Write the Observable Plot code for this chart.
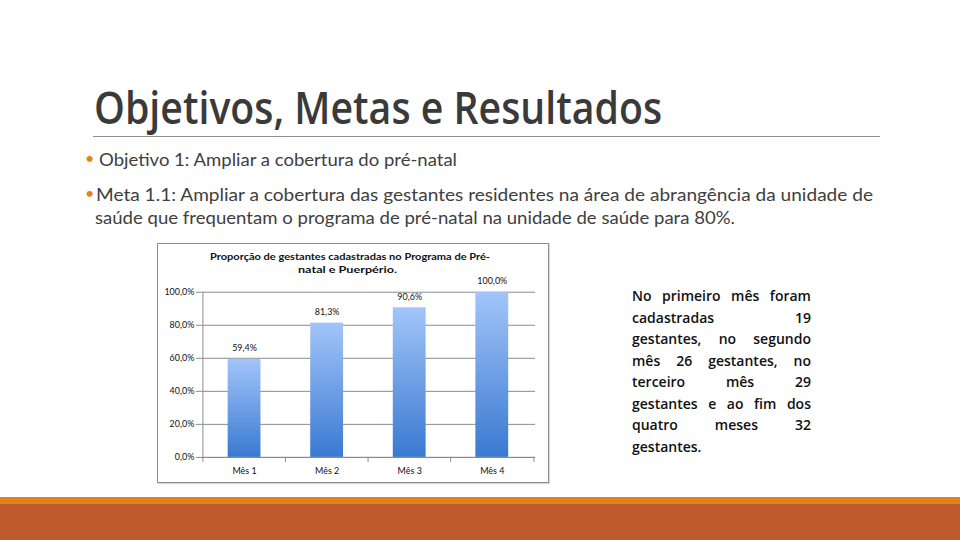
<!DOCTYPE html>
<html lang="pt">
<head>
<meta charset="utf-8">
<script src="https://cdn.jsdelivr.net/npm/d3@7"></script>
<script src="https://cdn.jsdelivr.net/npm/@observablehq/plot@0.6"></script>
<style>
  html, body { margin: 0; padding: 0; background: #fff; }
  #slide { position: relative; width: 960px; height: 540px; overflow: hidden; background: #fff; font-family: Lato, "Open Sans", sans-serif; }
  .abs { position: absolute; white-space: nowrap; transform-origin: 0 0; }
  .fit { display: inline-block; }
  #chartbox { position: absolute; left: 157px; top: 243px; width: 392px; height: 240px; box-sizing: border-box; border: 1px solid #8c8c8c; box-shadow: 1px 1px 1px rgba(0,0,0,0.15); }
  #chartbox svg { position: absolute; left: -1px; top: -1px; overflow: visible; }
  .ctitle { position: absolute; font-family: Lato, sans-serif; font-weight: 700; font-size: 10px; color: #111; white-space: nowrap; transform-origin: 0 0; }
  .pline { position: absolute; left: 632px; font-family: "Open Sans", Lato, sans-serif; font-weight: 600; font-size: 14px; color: #111; white-space: nowrap; line-height: 17px; }
</style>
</head>
<body>
<div id="slide">
  <div class="abs fit" id="title" style="left:94px; top:79px; font-family:'Open Sans', Lato, sans-serif; font-weight:600; font-size:45px; line-height:55px; color:#3a3a3a;">Objetivos, Metas e Resultados</div>
  <div class="abs" style="left:93px; top:136px; width:787px; height:1px; background:#8f8f8f;"></div>

  <div class="abs" style="left:85px; top:148px; font-size:16px; line-height:20px; color:#E48312;">•</div>
  <div class="abs fit" id="b1" style="left:99px; top:150px; font-size:16.5px; line-height:20px; color:#404040;">Objetivo 1: Ampliar a cobertura do pré-natal</div>

  <div class="abs" style="left:85px; top:183px; font-size:16px; line-height:20px; color:#E48312;">•</div>
  <div class="abs fit" id="b2" style="left:96px; top:185px; font-size:16.5px; line-height:20px; color:#404040;">Meta 1.1: Ampliar a cobertura das gestantes residentes na área de abrangência da unidade de</div>
  <div class="abs fit" id="b3" style="left:95px; top:208px; font-size:16.5px; line-height:20px; color:#404040;">saúde que frequentam o programa de pré-natal na unidade de saúde para 80%.</div>

  <div id="chartbox"></div>
  <div class="ctitle fit" id="ct1" style="left:210px; top:250px;">Proporção de gestantes cadastradas no Programa de Pré-</div>
  <div class="ctitle fit" id="ct2" style="left:298px; top:263px;">natal e Puerpério.</div>

  <div id="para"></div>

  <div class="abs" style="left:0; top:497px; width:960px; height:7px; background:#E3841B;"></div>
  <div class="abs" style="left:0; top:504px; width:960px; height:36px; background:#BE5A2C;"></div>
</div>
<script>
// ---- data ----
const months = ["Mês 1", "Mês 2", "Mês 3", "Mês 4"];
const values = [59.4, 81.3, 90.6, 100.0];
const yTicks = [0, 20, 40, 60, 80, 100];
const paragraphLines = [
  "No primeiro mês foram",
  "cadastradas 19",
  "gestantes, no segundo",
  "mês 26 gestantes, no",
  "terceiro mês 29",
  "gestantes e ao fim dos",
  "quatro meses 32",
  "gestantes."
];

const fmt = d => d.toFixed(1).replace(".", ",") + "%";
const data = months.map((m, i) => ({month: m, value: values[i]}));

const W = 392, H = 240, mL = 45, mR = 12, mT = 49, mB = 25;
const step = (W - mL - mR) / months.length;

const chart = Plot.plot({
  width: W, height: H,
  marginLeft: mL, marginRight: mR, marginTop: mT, marginBottom: mB,
  style: {fontFamily: "Lato, sans-serif", fontSize: "9px", color: "#111", background: "transparent", overflow: "visible"},
  x: {domain: months, paddingInner: 0.6, paddingOuter: 0.3, label: null},
  y: {domain: [0, 100], label: null},
  marks: [
    Plot.gridY(yTicks, {stroke: "#8a8a8a", strokeOpacity: 1}),
    Plot.barY(data, {x: "month", y: "value", fill: "url(#barGrad)"}),
    Plot.ruleY([0], {stroke: "#8a8a8a"}),
    Plot.ruleX([months[0]], {y1: 0, y2: 100, dx: -step / 2, stroke: "#8a8a8a"}),
    Plot.ruleX(months, {y1: 0, y2: -3, dx: -step / 2, stroke: "#8a8a8a"}),
    Plot.ruleX([months[months.length - 1]], {y1: 0, y2: -3, dx: step / 2, stroke: "#8a8a8a"}),
    Plot.axisY(yTicks, {tickFormat: fmt, tickSize: 6, tickPadding: 2, stroke: "#8a8a8a", fill: "#111", fontSize: 9}),
    Plot.axisX({tickSize: 0, tickPadding: 10, fill: "#111", fontSize: 9}),
    Plot.text(data, {x: "month", y: "value", text: d => fmt(d.value), dy: -11, fill: "#111", fontSize: 9})
  ]
});

const svgNS = "http://www.w3.org/2000/svg";
const defs = document.createElementNS(svgNS, "defs");
defs.innerHTML = `<linearGradient id="barGrad" x1="0" y1="0" x2="0" y2="1">
  <stop offset="0" stop-color="#A2C5F9"/>
  <stop offset="1" stop-color="#3A79D1"/>
</linearGradient>`;
chart.insertBefore(defs, chart.firstChild);
document.getElementById("chartbox").appendChild(chart);

// paragraph
const para = document.getElementById("para");
const baselines0 = 287, lh = 21.5;
paragraphLines.forEach((line, i) => {
  const div = document.createElement("div");
  div.className = "pline";
  div.style.top = (baselines0 + i * lh) + "px";
  div.dataset.last = i === paragraphLines.length - 1 ? "1" : "0";
  div.textContent = line;
  para.appendChild(div);
});

function fitWidth(el, target) {
  el.style.transform = "none";
  const w = el.getBoundingClientRect().width;
  if (w > 0) el.style.transform = `scaleX(${target / w})`;
}
function justify(el, target) {
  const w = el.getBoundingClientRect().width;
  if (w >= target) { el.style.transformOrigin = "0 0"; el.style.transform = `scaleX(${target / w})`; return; }
  const words = el.textContent.split(" ");
  el.textContent = "";
  el.style.display = "flex";
  el.style.justifyContent = "space-between";
  el.style.width = target + "px";
  words.forEach(wd => { const s = document.createElement("span"); s.textContent = wd; el.appendChild(s); });
}
function layout() {
  fitWidth(document.getElementById("title"), 662 - 94);
  fitWidth(document.getElementById("b1"), 457 - 99);
  fitWidth(document.getElementById("b2"), 873 - 96);
  fitWidth(document.getElementById("b3"), 735 - 95);
  fitWidth(document.getElementById("ct1"), 490 - 210);
  fitWidth(document.getElementById("ct2"), 397 - 298);
  document.querySelectorAll(".pline").forEach(el => {
    if (el.dataset.last === "1") return;
    justify(el, 811 - 632);
  });
}
if (document.fonts && document.fonts.ready) document.fonts.ready.then(layout); else layout();
</script>
</body>
</html>
